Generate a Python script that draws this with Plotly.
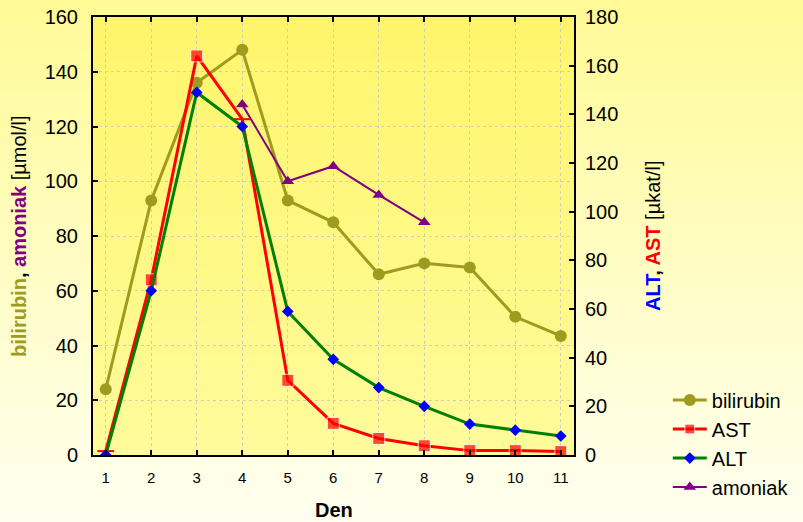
import plotly.graph_objects as go

days = [1, 2, 3, 4, 5, 6, 7, 8, 9, 10, 11]
bilirubin = [24, 93, 136, 148, 93, 85, 66, 70, 68.5, 50.5, 43.5]
amoniak = [None, None, None, 128, 100, 105.5, 95, 85, None, None, None]
ast = [1.6, 72, 164, 138, 30.7, 13, 6.8, 3.8, 1.8, 1.8, 1.4]
alt = [0, 67.5, 149, 135, 59, 39.3, 27.7, 20, 12.7, 10.2, 7.8]
ast_dash_days = [1, 4]  # points drawn as short horizontal dashes in the original

left_ticks = [0, 20, 40, 60, 80, 100, 120, 140, 160]
right_ticks = [0, 20, 40, 60, 80, 100, 120, 140, 160, 180]

OLIVE = "#9e9b1f"
PURPLE = "#800080"
FONT = "Arial, Liberation Sans, sans-serif"
GRID = "#cfcfbe"

fig = go.Figure()

fig.add_trace(go.Scatter(
    x=days, y=bilirubin, name="bilirubin", mode="lines+markers",
    line=dict(color=OLIVE, width=3),
    marker=dict(symbol="circle", size=12, color=OLIVE), yaxis="y"))

ast_sizes = [0 if d in ast_dash_days else 12 for d in days]
fig.add_trace(go.Scatter(
    x=days, y=ast, name="AST", mode="lines+markers",
    line=dict(color="#ff0000", width=3),
    marker=dict(symbol="square", size=ast_sizes, color="#ff0000"), yaxis="y2"))
fig.add_trace(go.Scatter(
    x=[d for d in days if d in ast_dash_days],
    y=[v for d, v in zip(days, ast) if d in ast_dash_days],
    mode="markers", showlegend=False, hoverinfo="skip",
    marker=dict(symbol="line-ew", size=12, color="#ff0000",
                line=dict(color="#ff0000", width=2)), yaxis="y2"))

fig.add_trace(go.Scatter(
    x=days, y=alt, name="ALT", mode="lines+markers",
    line=dict(color="#008000", width=3),
    marker=dict(symbol="diamond", size=9, color="#0000ff"), yaxis="y2"))

fig.add_trace(go.Scatter(
    x=days, y=amoniak, name="amoniak", mode="lines+markers",
    line=dict(color=PURPLE, width=2),
    marker=dict(symbol="triangle-up", size=11, color=PURPLE), yaxis="y"))

# gradient backgrounds
shapes = []
def lerp(c1, c2, t):
    return "rgb(%d,%d,%d)" % tuple(round(a + (b - a) * t) for a, b in zip(c1, c2))

N = 40
p_top, p_bot = (255, 250, 150), (255, 255, 240)
y_hi, y_lo = 1.04, -0.16
for i in range(N):
    t = i / (N - 1)
    y1 = y_hi - (y_hi - y_lo) * i / N
    y0 = y_hi - (y_hi - y_lo) * (i + 1) / N - 0.002
    shapes.append(dict(type="rect", xref="paper", yref="paper", x0=-0.25, x1=1.55,
                       y0=y0, y1=y1, fillcolor=lerp(p_top, p_bot, t),
                       line=dict(width=0), layer="below"))
a_top, a_bot = (255, 245, 108), (255, 251, 155)
for i in range(N):
    t = i / (N - 1)
    y1 = 1 - i / N
    y0 = max(0, 1 - (i + 1) / N - 0.002)
    shapes.append(dict(type="rect", xref="paper", yref="paper", x0=0, x1=1,
                       y0=y0, y1=y1, fillcolor=lerp(a_top, a_bot, t),
                       line=dict(width=0), layer="below"))

left_title = ("<b><span style='color:%s'>bilirubin</span>, "
              "<span style='color:%s'>amoniak</span></b> [µmol/l]" % (OLIVE, PURPLE))
right_title = ("<b><span style='color:#0000ff'>ALT</span>, "
               "<span style='color:#ff0000'>AST</span></b> [µkat/l]")

fig.update_layout(
    width=803, height=522,
    margin=dict(l=93, r=229, t=17, b=67, autoexpand=False),
    paper_bgcolor="rgb(255,255,240)",
    plot_bgcolor="rgba(0,0,0,0)",
    font=dict(family=FONT, color="#000000", size=20),
    shapes=shapes,
    showlegend=True,
    legend=dict(x=1.195, y=0.17, xanchor="left", yanchor="top",
                bgcolor="rgba(0,0,0,0)", font=dict(size=20, family=FONT),
                itemwidth=34),
    xaxis=dict(range=[0.72, 11.29], tickvals=days, ticktext=[str(d) for d in days],
               tickfont=dict(size=15), ticks="inside", ticklen=5, tickwidth=2,
               tickcolor="#000", showline=True, linecolor="#000", linewidth=2,
               mirror="ticks", showgrid=True, gridcolor=GRID, griddash="dot",
               gridwidth=1.3, zeroline=False, ticklabelstandoff=8),
    yaxis=dict(range=[0, 160], tickvals=left_ticks, tickfont=dict(size=20),
               ticks="inside", ticklen=5, tickwidth=2, tickcolor="#000",
               showline=True, linecolor="#000", linewidth=2, mirror=False,
               showgrid=True, gridcolor=GRID, griddash="dot", gridwidth=1.3,
               zeroline=False, ticklabelstandoff=9),
    yaxis2=dict(range=[0, 180], tickvals=right_ticks, tickfont=dict(size=20),
                overlaying="y", side="right", ticks="inside", ticklen=5,
                tickwidth=2, tickcolor="#000", showline=True, linecolor="#000",
                linewidth=2, showgrid=False, zeroline=False, ticklabelstandoff=5),
    annotations=[
        dict(text=left_title, textangle=-90, xref="paper", yref="paper",
             x=(19 - 93) / 481, y=0.5, xanchor="center", yanchor="middle",
             showarrow=False, font=dict(size=20, family=FONT)),
        dict(text=right_title, textangle=-90, xref="paper", yref="paper",
             x=(653 - 93) / 481, y=0.5, xanchor="center", yanchor="middle",
             showarrow=False, font=dict(size=20, family=FONT)),
        dict(text="<b>Den</b>", xref="paper", yref="paper",
             x=0.5, y=(455 - 510) / 438, xanchor="center", yanchor="middle",
             showarrow=False, font=dict(size=20, family=FONT)),
    ],
)

fig.write_html("out.html", config={"displayModeBar": False},
               post_script="document.body.style.margin='0';")
